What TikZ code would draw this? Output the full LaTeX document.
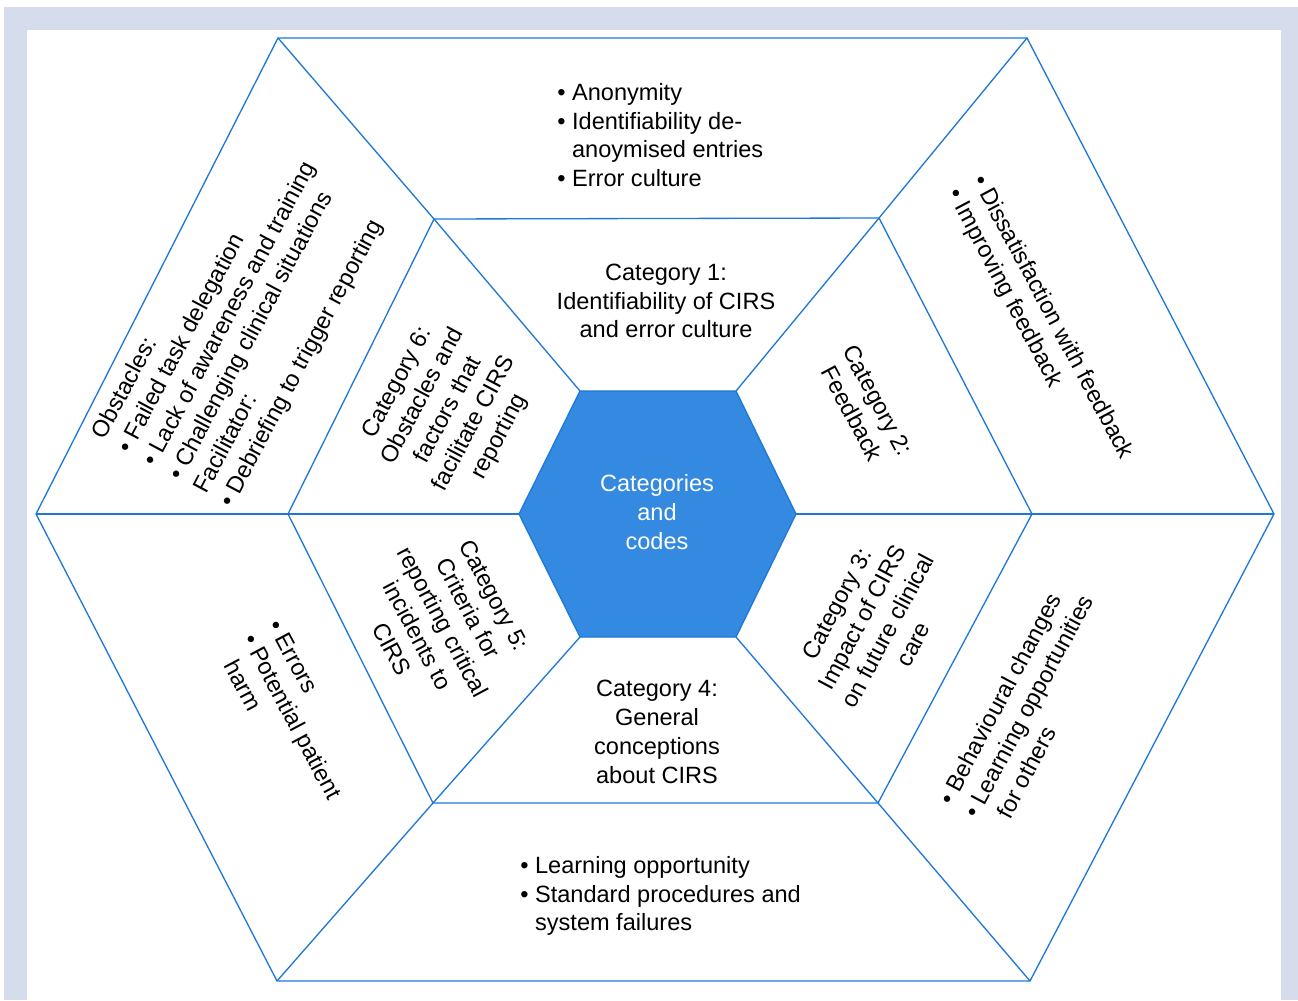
\documentclass[tikz,border=0pt]{standalone}
\usepackage{fontspec}
\setmainfont{Liberation Sans}
\definecolor{HexLine}{HTML}{1E78D8}
\definecolor{HexCore}{HTML}{3489E0}
\definecolor{FrameBlue}{HTML}{D5DDED}
\newcommand{\bul}{\textbullet\ }
\newcommand{\ind}{\phantom{\textbullet\ }}
\tikzset{
  every node/.style={font=\fontsize{13.4pt}{16.4pt}\selectfont, text=black, inner sep=0pt},
  ring/.style={draw=HexLine, line width=0.75pt},
  core/.style={fill=HexCore, draw=HexLine, line width=0.75pt},
  catbox/.style={align=center},
  codebox/.style={align=left, anchor=west},
}

\begin{document}
\begin{tikzpicture}[x=0.2mm, y=-0.2mm]
  % Frame
  \useasboundingbox (0,0) rectangle (1298,1000);
  \fill[FrameBlue] (4,7) rectangle (1298,1000);
  \fill[white] (27,30) rectangle (1281,1000);
  % Corners: left, upper left, upper right, right, lower right, lower left
  \coordinate (i1) at (519,514);  \coordinate (i2) at (580,391);
  \coordinate (i3) at (736,391);  \coordinate (i4) at (796,514);
  \coordinate (i5) at (736,637);  \coordinate (i6) at (580,637);
  \coordinate (m1) at (288,514);  \coordinate (m2) at (434,219);
  \coordinate (m3) at (879,218);  \coordinate (m4) at (1032,514);
  \coordinate (m5) at (878,803);  \coordinate (m6) at (433,803);
  \coordinate (o1) at (36,514);   \coordinate (o2) at (278,38);
  \coordinate (o3) at (1027,38);  \coordinate (o4) at (1274,514);
  \coordinate (o5) at (1030,981); \coordinate (o6) at (277,981);
  % Spokes and rings
  \foreach \k in {1,...,6} {
    \draw[ring] (i\k) -- (m\k) -- (o\k);
  }
  \draw[ring] (o1) -- (o2) -- (o3) -- (o4) -- (o5) -- (o6) -- cycle;
  \draw[ring] (m1) -- (m2) -- (m3) -- (m4) -- (m5) -- (m6) -- cycle;
  \draw[core] (i1) -- (i2) -- (i3) -- (i4) -- (i5) -- (i6) -- cycle;
  \node[catbox, text=white] (core) at (657,512) {Categories\\and\\codes};
  % Categories
  \node[catbox] (cat1) at (666,301) {Category 1:\\Identifiability of CIRS\\and error culture};
  \node[catbox, rotate=-62] (cat2) at (865,407) {Category 2:\\Feedback};
  \node[catbox, rotate=62] (cat3) at (875,624) {Category 3:\\Impact of CIRS\\on future clinical\\care};
  \node[catbox] (cat4) at (657,732) {Category 4:\\General\\conceptions\\about CIRS};
  \node[catbox, rotate=-62] (cat5) at (443,622) {Category 5:\\Criteria for\\reporting critical\\incidents to\\CIRS};
  \node[catbox, rotate=62] (cat6) at (449,410) {Category 6:\\Obstacles and\\factors that\\facilitate CIRS\\reporting};
  % Codes
  \node[codebox] (codes1) at (557,135) {\bul Anonymity\\\bul Identifiability de-\\\ind anoymised entries\\\bul Error culture};
  \node[codebox, rotate=-62] (codes2) at (965,184) {\bul Dissatisfaction with feedback\\\bul Improving feedback};
  \node[codebox, rotate=62] (codes3) at (970,816) {\bul Behavioural changes\\\bul Learning opportunities\\\ind for others};
  \node[codebox] (codes4) at (520,896) {\bul Learning opportunity\\\bul Standard procedures and\\\ind system failures};
  \node[codebox, rotate=-62] (codes5) at (249,635) {\bul Errors\\\bul Potential patient\\\ind harm};
  \node[codebox, rotate=62] (codes6) at (163,472) {Obstacles:\\\bul Failed task delegation\\\bul Lack of awareness and training\\\bul Challenging clinical situations\\Facilitator:\\\bul Debriefing to trigger reporting};
\end{tikzpicture}
\end{document}
